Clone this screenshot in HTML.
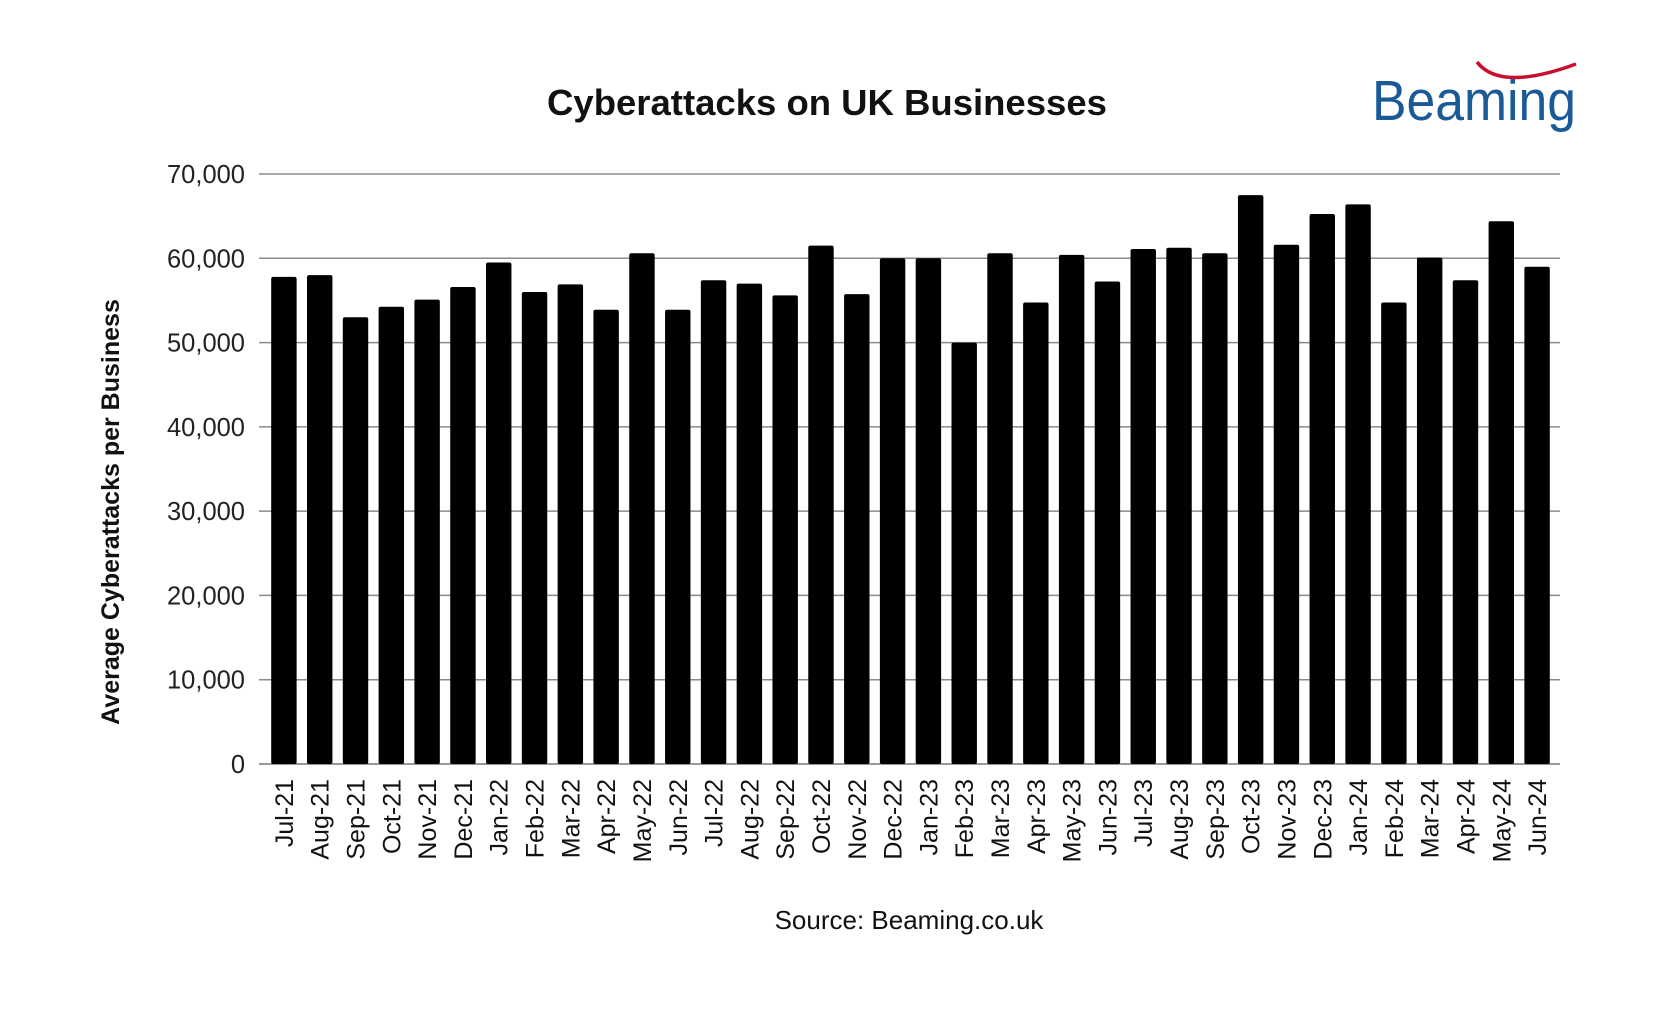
<!DOCTYPE html>
<html><head><meta charset="utf-8"><style>
html,body{margin:0;padding:0;background:#fff;}
svg{display:block;font-family:"Liberation Sans",sans-serif;}
</style></head><body>
<svg id="chart" width="1655" height="1015" viewBox="0 0 1655 1015">
<text x="827" y="115" text-anchor="middle" font-size="36.5" font-weight="bold" fill="#111">Cyberattacks on UK Businesses</text>
<g>
<path d="M1477,62 Q1500,92 1576,64" fill="none" stroke="#c8102e" stroke-width="3.5"/>
<text x="1372" y="120" font-size="57" fill="#1a5a96" textLength="204" lengthAdjust="spacingAndGlyphs">Beaming</text>
</g>
<text transform="translate(119,512) rotate(-90)" text-anchor="middle" font-size="25" font-weight="bold" fill="#111">Average Cyberattacks per Business</text>
<g id="gridG"></g>
<g id="barsG"></g>
<g id="xlabelsG"></g>
<text x="909" y="929" text-anchor="middle" font-size="26" fill="#111">Source: Beaming.co.uk</text>
</svg>
<script>
const categories = ["Jul-21","Aug-21","Sep-21","Oct-21","Nov-21","Dec-21","Jan-22","Feb-22","Mar-22","Apr-22","May-22","Jun-22","Jul-22","Aug-22","Sep-22","Oct-22","Nov-22","Dec-22","Jan-23","Feb-23","Mar-23","Apr-23","May-23","Jun-23","Jul-23","Aug-23","Sep-23","Oct-23","Nov-23","Dec-23","Jan-24","Feb-24","Mar-24","Apr-24","May-24","Jun-24"];
const values = [57800,58000,53000,54250,55100,56600,59500,56000,56900,53900,60600,53900,57400,57000,55600,61500,55750,60000,60000,50000,60600,54750,60400,57250,61100,61250,60600,67500,61600,65250,66400,54750,60100,57400,64400,59000];
const yTicks = [0,10000,20000,30000,40000,50000,60000,70000];
const tickLabels = ["0","10,000","20,000","30,000","40,000","50,000","60,000","70,000"];

const NS = "http://www.w3.org/2000/svg";
const gridL = 259, gridR = 1560;
const plotL = 266, plotR = 1555, plotT = 174, plotB = 764, yMax = 70000;
const band = (plotR - plotL) / categories.length;
const yScale = v => plotB - (v / yMax) * (plotB - plotT);
const xScale = i => plotL + i * band;

const gridG = document.getElementById('gridG');
yTicks.forEach((t, i) => {
  const l = document.createElementNS(NS, 'line');
  l.setAttribute('x1', gridL); l.setAttribute('x2', gridR);
  l.setAttribute('y1', yScale(t)); l.setAttribute('y2', yScale(t));
  l.setAttribute('stroke', t === 0 ? '#777' : '#8a8a8a');
  l.setAttribute('stroke-width', '1.5');
  
  
  gridG.appendChild(l);
  const tx = document.createElementNS(NS, 'text');
  tx.setAttribute('x', 245); tx.setAttribute('y', yScale(t) + 9);
  tx.setAttribute('text-anchor', 'end');
  tx.setAttribute('font-size', '25.5');
  tx.setAttribute('fill', '#222');
  tx.textContent = tickLabels[i];
  
  
  gridG.appendChild(tx);
});

const barsG = document.getElementById('barsG');
const xlG = document.getElementById('xlabelsG');
const bw = band * 0.71;
values.forEach((v, i) => {
  const r = document.createElementNS(NS, 'rect');
  r.setAttribute('x', xScale(i) + (band - bw) / 2);
  r.setAttribute('y', yScale(v));
  r.setAttribute('width', bw);
  r.setAttribute('height', plotB - yScale(v));
  r.setAttribute('rx', '2');
  r.setAttribute('fill', '#000');
  
  
  barsG.appendChild(r);
  const t = document.createElementNS(NS, 'text');
  const cx = xScale(i) + band / 2 + 9;
  t.setAttribute('transform', 'translate(' + cx + ',779) rotate(-90)');
  t.setAttribute('text-anchor', 'end');
  t.setAttribute('font-size', '25');
  t.setAttribute('fill', '#111');
  t.textContent = categories[i];
  
  
  xlG.appendChild(t);
});
</script>
</body></html>
